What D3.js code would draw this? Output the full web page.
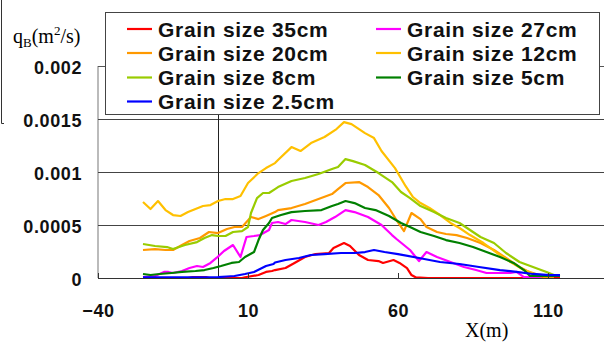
<!DOCTYPE html>
<html lang="en">
<head>
<meta charset="UTF-8">
<script src="https://d3js.org/d3.v7.min.js"></script>
<title>qB chart</title>
<style>
  body { margin: 0; background: #fff; }
  svg { display: block; }
</style>
</head>
<body>
<script>
  // series values: [X (m), qB (m2/s)]
  const grain35 = [[-25,0],[-10,0],[-8.5,0.000009],[-4,0.000009],[-3,0],[8,0],[9,0.000007],[13.5,0.000028],[16,0.000057],[18,0.000066],[19,0.000075],[22.5,0.000094],[25.5,0.000142],[29,0.000198],[32.5,0.000226],[37,0.000236],[38.5,0.000283],[42,0.00033],[44,0.000302],[47,0.000217],[50,0.00017],[53.5,0.00016],[55,0.000142],[58.5,0.00017],[60.5,0.000142],[63,0.000094],[64.5,0.000028],[66,0.000005],[70,0],[114,0]]
  const grain27 = [[-25,0.000009],[-21,0.000019],[-18,0.000057],[-16.5,0.000057],[-15,0.000047],[-12,0.000066],[-9.5,0.000094],[-7,0.000113],[-5,0.000104],[-2.5,0.000142],[-0.5,0.000189],[2,0.000255],[5,0.000311],[7.5,0.000198],[9.5,0.000387],[12,0.000396],[14,0.000405],[17,0.000453],[18,0.000519],[20,0.000528],[22.5,0.000509],[24.5,0.000547],[29,0.000528],[33.5,0.0005],[36,0.000528],[39,0.000575],[42.5,0.000641],[45.5,0.000622],[50,0.000575],[54.5,0.0005],[58,0.000405],[59.5,0.000368],[64,0.000264],[67,0.00016],[69.5,0.000245],[73,0.000198],[77.5,0.000151],[82,0.000104],[86,0.000075],[89.5,0.000047],[94,0.000047],[97.5,0.000047],[99.5,0.000057],[102,0.000009],[105,0.000009],[108,0]]
  const grain20 = [[-25,0.000264],[-21,0.000273],[-17.5,0.000264],[-15,0.000264],[-12,0.000311],[-9.5,0.000349],[-6,0.000377],[-3,0.000434],[0,0.000424],[3,0.000462],[5.5,0.000481],[8,0.000481],[9.5,0.000528],[11,0.000575],[13.5,0.000556],[16,0.000585],[19,0.000622],[20,0.000641],[24.5,0.00066],[29,0.000698],[33.5,0.000745],[38,0.000792],[40,0.000839],[42.5,0.000896],[47,0.000905],[50,0.000858],[53.5,0.000783],[57,0.00066],[59.5,0.000547],[62,0.000443],[64.5,0.000613],[67.5,0.000556],[69.5,0.000481],[73,0.000434],[76,0.000415],[79.5,0.000405],[83,0.000377],[87.5,0.00033],[92,0.000264],[96,0.000189],[100.5,0.000104],[105,0.000038],[108.5,0.000009],[112,0.000009]]
  const grain12 = [[-25,0.000717],[-22.5,0.000651],[-20,0.000726],[-17.5,0.000641],[-15,0.000594],[-12.5,0.000585],[-10,0.000622],[-7.5,0.000651],[-5,0.000679],[-2.5,0.000688],[0,0.000726],[2.5,0.000745],[5,0.000745],[7.5,0.000773],[10,0.000896],[13.5,0.00099],[16,0.001037],[19,0.001084],[20,0.001113],[24.5,0.001235],[27.5,0.001198],[31,0.001273],[35.5,0.00133],[39.5,0.001405],[42,0.001471],[44.5,0.001452],[49,0.001367],[52,0.00132],[54.5,0.001198],[59,0.001037],[62.5,0.000868],[65,0.000764],[67.5,0.000707],[70.5,0.00066],[74,0.000594],[77.5,0.000519],[80.5,0.000472],[84,0.000405],[88.5,0.00033],[93,0.000236],[97.5,0.000151],[102,0.000075],[106,0.000038],[109.5,0.000019],[114,0.000019]]
  const grain8 = [[-25,0.000321],[-21,0.000302],[-17,0.000292],[-15,0.000273],[-11,0.000311],[-7,0.000339],[-4.5,0.000377],[-2,0.000405],[0,0.000396],[2.5,0.000396],[5,0.000434],[8,0.000443],[10,0.000481],[11,0.000613],[13,0.000754],[15,0.000802],[17,0.000802],[19,0.000839],[20,0.000858],[24.5,0.000915],[29,0.000943],[33.5,0.000981],[38,0.001028],[40,0.001047],[42.5,0.001122],[45,0.001103],[49,0.001066],[53.5,0.00099],[58,0.000905],[61,0.000811],[64,0.000754],[67.5,0.000679],[72,0.000622],[76,0.000566],[80.5,0.000519],[84,0.000453],[87.5,0.000387],[92,0.00033],[96,0.000236],[100.5,0.000151],[105,0.000104],[109.5,0.000057],[112,0.000028],[114,0.000019]]
  const grain5 = [[-25,0.000038],[-22.5,0.000028],[-19.5,0.000038],[-15.5,0.000047],[-12,0.000057],[-7.5,0.000066],[-4.5,0.000075],[-1.5,0.000094],[1,0.000113],[4.5,0.000142],[7,0.000151],[9,0.000198],[12,0.000245],[13.5,0.000358],[15,0.000453],[17,0.000519],[18,0.000566],[21,0.000594],[24.5,0.000622],[29,0.000632],[34.5,0.000641],[38,0.000679],[40,0.000698],[42.5,0.000726],[45.5,0.000707],[49,0.00066],[52.5,0.000641],[57,0.000585],[61,0.000519],[64,0.000481],[67.5,0.000434],[72,0.000396],[76,0.000358],[80.5,0.00033],[85,0.000292],[89.5,0.000245],[94,0.000198],[98.5,0.000142],[102,0.000075],[104,0.000019],[108.5,0.000019],[114,0.000019]]
  const grain2_5 = [[-25,0.000005],[-15,0.000005],[-5,0.000005],[0,0.000009],[3,0.000014],[5.5,0.000019],[9,0.000038],[12,0.000057],[14,0.000085],[16,0.000113],[18.5,0.000132],[19,0.000146],[22.5,0.00017],[27,0.000189],[31,0.000217],[35.5,0.000226],[41,0.000236],[45.5,0.000236],[49,0.000245],[52,0.000264],[55.5,0.000245],[60,0.000226],[67,0.000189],[74,0.000151],[80.5,0.000132],[87,0.000104],[94,0.000075],[99.5,0.000057],[105,0.000038],[110.5,0.000028],[114,0.000028]]

  const seriesNames = ["Grain size 35cm", "Grain size 27cm", "Grain size 20cm", "Grain size 12cm",
                       "Grain size 8cm", "Grain size 5cm", "Grain size 2.5cm"]
  const seriesColors = ["#ff0000", "#ff00ff", "#ff9900", "#ffc000", "#99cc00", "#008000", "#0000ff"]
  const seriesData = [grain35, grain27, grain20, grain12, grain8, grain5, grain2_5]

  const xTicks = [-40, 10, 60, 110]
  const yTicks = [0, 0.0005, 0.001, 0.0015, 0.002]

  const width = 604, height = 345
  const plotL = 98, plotT = 66, plotB = 278, plotR = 604

  const svg = d3.select("body").append("svg")
    .attr("width", width).attr("height", height)

  const x = d3.scaleLinear().domain([-40, 110]).range([plotL, 548])
  const y = d3.scaleLinear().domain([0, 0.002]).range([plotB, plotT])

  // outer frame fragment at top left
  svg.append("path").attr("d", "M1.5,0V123.5H4").attr("fill", "none").attr("stroke", "#333")

  // plot area borders
  svg.append("line").attr("x1", plotL).attr("x2", plotL).attr("y1", plotT).attr("y2", plotB)
    .attr("stroke", "#bbb").attr("stroke-width", 2)
  svg.append("line").attr("x1", plotL).attr("x2", plotR).attr("y1", plotT + 0.5).attr("y2", plotT + 0.5)
    .attr("stroke", "#555")

  // horizontal grid
  svg.append("g").selectAll("line").data(yTicks.filter(d => d > 0 && d < 0.002)).join("line")
    .attr("x1", plotL).attr("x2", plotR)
    .attr("y1", d => Math.round(y(d)) + 0.5).attr("y2", d => Math.round(y(d)) + 0.5)
    .attr("stroke", "#444")

  // vertical axis crossing at X = 0
  svg.append("line").attr("x1", Math.round(x(0)) + 0.5).attr("x2", Math.round(x(0)) + 0.5)
    .attr("y1", plotT).attr("y2", plotB).attr("stroke", "#222")

  // y tick labels
  const yAxis = svg.append("g").attr("transform", `translate(${plotL - 16},0)`)
    .call(d3.axisLeft(y).tickValues(yTicks).tickSize(0).tickPadding(0).tickFormat(d => String(d)))
  yAxis.select(".domain").remove()
  yAxis.selectAll("text")
    .attr("dy", "0.4em")
    .style("font-family", "Liberation Sans, Arial, sans-serif")
    .style("font-weight", "bold").style("font-size", "18px")
    .style("letter-spacing", "0.6px").attr("fill", "#111")

  // lines
  const line = d3.line().x(d => x(d[0])).y(d => y(d[1]))
  svg.append("g").selectAll("path").data(seriesData).join("path")
    .attr("d", line)
    .attr("fill", "none")
    .attr("stroke", (d, i) => seriesColors[i])
    .attr("stroke-width", 2.2)
    .attr("stroke-linejoin", "round")

  // x axis
  const xAxis = svg.append("g").attr("transform", `translate(0,${plotB})`)
    .call(d3.axisBottom(x).tickValues(xTicks).tickSize(-5).tickPadding(26))
  xAxis.select(".domain").remove()
  xAxis.selectAll(".tick line").attr("stroke", "#333")
  xAxis.selectAll("text")
    .style("font-family", "Liberation Sans, Arial, sans-serif")
    .style("font-weight", "bold").style("font-size", "18px")
    .style("letter-spacing", "0.6px").attr("fill", "#111")
  svg.append("line").attr("x1", plotL).attr("x2", plotR).attr("y1", plotB + 0.5).attr("y2", plotB + 0.5)
    .attr("stroke", "#333").attr("stroke-width", 1.2)

  // axis titles
  const yt = svg.append("text").attr("x", 13).attr("y", 43)
    .style("font-family", "Liberation Serif, Times New Roman, serif").style("font-size", "20px")
  yt.append("tspan").text("q")
  yt.append("tspan").attr("dy", 4).style("font-size", "13px").text("B")
  yt.append("tspan").attr("dy", -4).text("(m")
  yt.append("tspan").attr("dy", -8).style("font-size", "13px").text("2")
  yt.append("tspan").attr("dy", 8).text("/s)")

  svg.append("text").attr("x", 465).attr("y", 337)
    .style("font-family", "Liberation Serif, Times New Roman, serif").style("font-size", "20px")
    .text("X(m)")

  // legend
  svg.append("rect").attr("x", 105.5).attr("y", 12.5).attr("width", 494).attr("height", 102)
    .attr("fill", "#fff").attr("stroke", "#444")
  const legendCols = [127, 376]
  const legendRows = [29, 53, 77.5, 101.5]
  const lg = svg.append("g").selectAll("g").data(seriesNames).join("g")
    .attr("transform", (d, i) => `translate(${legendCols[i % 2]},${legendRows[Math.floor(i / 2)]})`)
  lg.append("line").attr("x1", 0).attr("x2", 25)
    .attr("stroke", (d, i) => seriesColors[i]).attr("stroke-width", 2.2)
  lg.append("text").attr("x", 31).attr("y", 7.5)
    .style("font-family", "Liberation Sans, Arial, sans-serif")
    .style("font-weight", "bold").style("font-size", "21px")
    .style("letter-spacing", "0.7px").attr("fill", "#111")
    .text(d => d)
</script>
</body>
</html>
